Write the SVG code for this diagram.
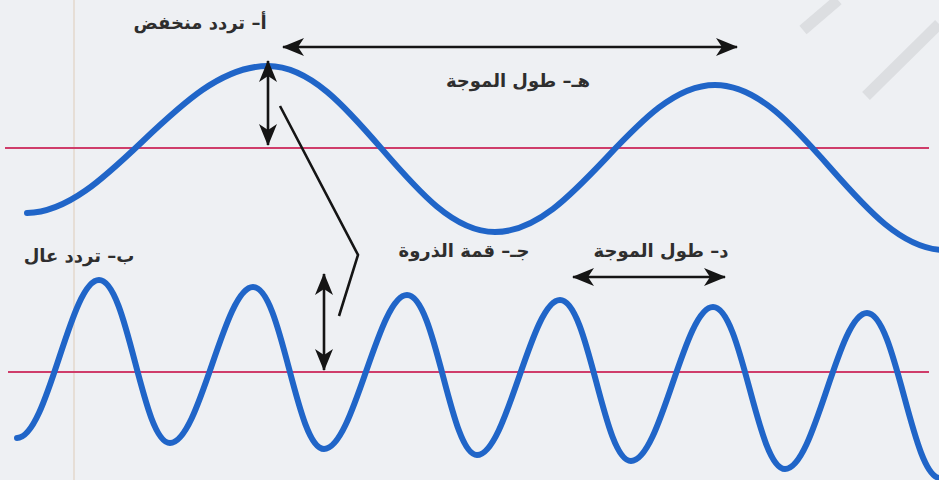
<svg xmlns="http://www.w3.org/2000/svg" width="939" height="480" viewBox="0 0 939 480">
  <defs>
    <style>
      .wave { fill: none; stroke: #2065c8; stroke-width: 6; stroke-linecap: round; }
      .axis { stroke: #cf3d6a; stroke-width: 2; }
      .arrow { stroke: #151515; stroke-width: 2.6; fill: none; }
      .lbl { font-family: "DejaVu Sans", "Noto Sans", sans-serif; font-weight: bold; font-size: 18px; fill: #2e2e2e; direction: rtl; text-anchor: middle; }
      .wm { stroke: #dcdee1; stroke-width: 11; fill: none; }
    </style>
    <marker id="ah" viewBox="0 0 22 18" refX="21" refY="9" markerWidth="22" markerHeight="18" markerUnits="userSpaceOnUse" orient="auto-start-reverse">
      <path d="M0,0 L22,9 L0,18 L6,9 Z" fill="#151515"/>
    </marker>
  </defs>

  <rect width="939" height="480" fill="#eef0f3"/>
  <line x1="74" y1="0" x2="74" y2="480" stroke="#e6ded6" stroke-width="2"/>
  <g id="watermark">
    <path class="wm" d="M803,30 L838,0"/>
    <path class="wm" d="M866,96 L939,24"/>
  </g>

  <g id="axes">
    <line class="axis" x1="5" y1="148" x2="929" y2="148"/>
    <line class="axis" x1="8" y1="372" x2="929" y2="372"/>
  </g>

  <g id="low-frequency-wave">
    <path class="wave" d="M27,213 C110,212 178,66 268,66 C352,66 412,232 495,232 C577,232 635,85 715,85 C800,85 860,250 945,250"/>
  </g>

  <g id="high-frequency-wave">
    <path class="wave" d="M17,438 C48,438 70,280 99,280 C128,280 142,443 170,443 C200,443 224,287 253,287 C282,287 296,449 324,449 C354,449 378,295 407,295 C436,295 450,455 477,455 C507,455 531,300 560,300 C589,300 603,461 631,461 C661,461 684,307 713,307 C742,307 757,469 785,469 C815,469 838,313 867,313 C896,313 912,478 940,478"/>
  </g>

  <g id="connectors">
    <line class="arrow" x1="283" y1="47" x2="737" y2="47" marker-start="url(#ah)" marker-end="url(#ah)"/>
    <line class="arrow" x1="268" y1="61" x2="268" y2="145" marker-start="url(#ah)" marker-end="url(#ah)"/>
    <line class="arrow" x1="324" y1="274" x2="324" y2="370" marker-start="url(#ah)" marker-end="url(#ah)"/>
    <line class="arrow" x1="573" y1="277" x2="725" y2="277" marker-start="url(#ah)" marker-end="url(#ah)"/>
    <polyline class="arrow" points="280,106 358,255 339,316"/>
  </g>

  <g id="label-a"><text class="lbl" x="200" y="29">أ– تردد منخفض</text></g>
  <g id="label-e"><text class="lbl" x="518" y="87">هـ– طول الموجة</text></g>
  <g id="label-b"><text class="lbl" x="79" y="262">ب– تردد عال</text></g>
  <g id="label-j"><text class="lbl" x="464" y="257">جـ– قمة الذروة</text></g>
  <g id="label-d"><text class="lbl" x="661" y="257">د– طول الموجة</text></g>
</svg>
